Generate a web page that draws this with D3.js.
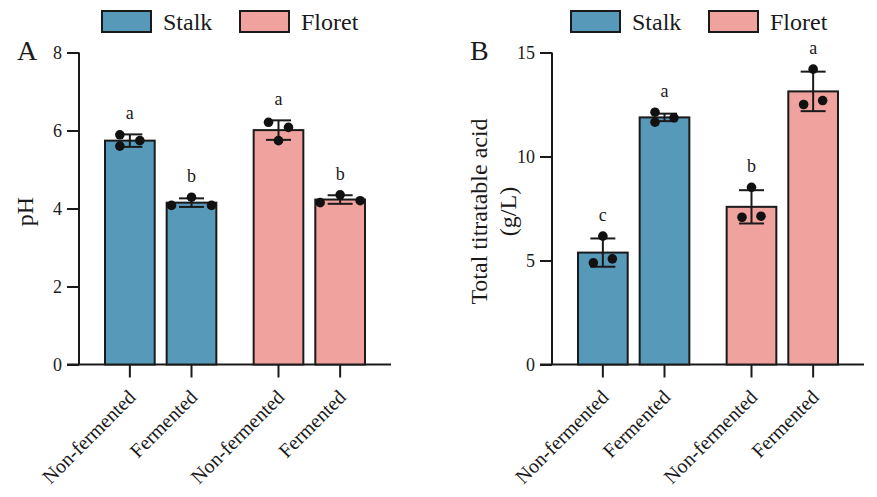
<!DOCTYPE html>
<html>
<head>
<meta charset="utf-8">
<script src="https://cdn.jsdelivr.net/npm/d3@7"></script>
<style>
  body { margin: 0; background: #fff; }
  svg { font-family: "Liberation Serif", "Times New Roman", serif; }
  .axis path, .axis line { stroke: #1a1a1a; stroke-width: 2px; }
  .axis text { font-size: 18px; fill: #1a1a1a; }
</style>
</head>
<body>
<svg id="chart"></svg>
<script>
// ---- data ----
const groups = ["Stalk", "Floret"];
const treatments = ["Non-fermented", "Fermented"];

// panel A: pH
const phMean = [5.74, 4.15, 6.01, 4.23];
const phSd = [0.16, 0.11, 0.25, 0.11];
const phPoints = [[5.89, 5.74, 5.60], [4.08, 4.29, 4.08], [6.21, 6.08, 5.74], [4.15, 4.35, 4.20]];
const phLetters = ["a", "b", "a", "b"];
const phTicks = [0, 2, 4, 6, 8];

// panel B: total titratable acid (g/L)
const taMean = [5.38, 11.88, 7.58, 13.13];
const taSd = [0.68, 0.18, 0.80, 0.95];
const taPoints = [[6.17, 4.89, 5.08], [12.13, 11.65, 11.86], [8.52, 7.08, 7.13], [14.20, 12.50, 12.69]];
const taLetters = ["c", "a", "b", "a"];
const taTicks = [0, 5, 10, 15];

// horizontal slot of each dot inside its bar (scatter spread, layout only)
const phJitter = [[-1, 1, -1], [-2, 0, 2], [-1, 1, 0], [-2, 0, 2]];
const taJitter = [[0, -1, 1], [-1, -1, 1], [0, -1, 1], [0, -1, 1]];

const colors = { Stalk: "#5799b9", Floret: "#f0a29f" };
const ink = "#1a1a1a";

const svg = d3.select("#chart").attr("width", 877).attr("height", 497);

function drawPanel(cfg) {
  const g = svg.append("g").attr("transform", `translate(${cfg.dx},0)`);
  const x0 = 79, x1 = 391, yTop = 52.5, yBot = 364.5;

  // bars: index -> group / treatment
  const rows = cfg.mean.map((m, i) => ({
    group: groups[Math.floor(i / 2)],
    treat: treatments[i % 2],
    mean: m,
    sd: cfg.sd[i],
    pts: cfg.points[i],
    jit: cfg.jitter[i],
    letter: cfg.letters[i]
  }));

  const y = d3.scaleLinear().domain([0, cfg.max]).range([yBot, yTop]);
  const xGroup = d3.scaleBand().domain(groups).range([x0, x1])
    .paddingInner(0.251).paddingOuter(0.175);
  const xInner = d3.scaleBand().domain(treatments).range([0, xGroup.bandwidth()])
    .paddingInner(0.194);
  const cx = d => xGroup(d.group) + xInner(d.treat) + xInner.bandwidth() / 2;

  // y axis (drop d3's sans-serif default so the serif face is used)
  g.append("g").attr("class", "axis")
    .attr("transform", `translate(${x0},0)`)
    .call(d3.axisLeft(y).tickValues(cfg.ticks).tickSize(12).tickPadding(5).tickSizeOuter(0))
    .attr("font-family", null)
    .attr("font-size", null)
    .call(a => a.select(".domain").attr("d", `M0,${yBot}V${yTop}`));

  // x axis with a tick under each bar
  const xa = g.append("g").attr("class", "axis");
  xa.append("line").attr("x1", x0 - 12).attr("x2", x1).attr("y1", yBot).attr("y2", yBot);
  xa.selectAll(".tk").data(rows).join("line").attr("class", "tk")
    .attr("x1", cx).attr("x2", cx).attr("y1", yBot).attr("y2", yBot + 13);
  xa.selectAll(".tl").data(rows).join("text").attr("class", "tl")
    .attr("text-anchor", "end")
    .style("font-size", "20px")
    .attr("transform", d => `translate(${cx(d) + 7},${yBot + 34}) rotate(-45)`)
    .text(d => d.treat);

  // bars
  g.selectAll(".bar").data(rows).join("rect").attr("class", "bar")
    .attr("x", d => xGroup(d.group) + xInner(d.treat))
    .attr("width", xInner.bandwidth())
    .attr("y", d => y(d.mean))
    .attr("height", d => y(0) - y(d.mean))
    .attr("fill", d => colors[d.group])
    .attr("stroke", ink).attr("stroke-width", 2);

  // error bars
  const eb = g.selectAll(".err").data(rows).join("g").attr("class", "err")
    .attr("stroke", ink).attr("stroke-width", 2);
  eb.append("line").attr("x1", cx).attr("x2", cx)
    .attr("y1", d => y(d.mean + d.sd)).attr("y2", d => y(d.mean - d.sd));
  eb.append("line").attr("x1", d => cx(d) - 12.5).attr("x2", d => cx(d) + 12.5)
    .attr("y1", d => y(d.mean + d.sd)).attr("y2", d => y(d.mean + d.sd));
  eb.append("line").attr("x1", d => cx(d) - 12.5).attr("x2", d => cx(d) + 12.5)
    .attr("y1", d => y(d.mean - d.sd)).attr("y2", d => y(d.mean - d.sd));

  // individual points
  rows.forEach(d => {
    g.selectAll(null).data(d.pts).join("circle")
      .attr("cx", (v, j) => cx(d) + d.jit[j] * cfg.slot)
      .attr("cy", v => y(v))
      .attr("r", 4.8)
      .attr("fill", "#111");
  });

  // significance letters
  g.selectAll(".sig").data(rows).join("text").attr("class", "sig")
    .attr("x", cx)
    .attr("y", d => Math.min(y(d3.max(d.pts)), y(d.mean + d.sd)) - 15)
    .attr("text-anchor", "middle")
    .style("font-size", "18px").attr("fill", ink)
    .text(d => d.letter);

  // panel letter
  g.append("text").attr("x", cfg.letterX).attr("y", 60)
    .style("font-size", "28px").attr("fill", ink).text(cfg.panel);

  // y title
  cfg.title.forEach((t, k) => {
    g.append("text")
      .attr("transform", `translate(${cfg.titleX[k]},${(yTop + yBot) / 2 + 3}) rotate(-90)`)
      .attr("text-anchor", "middle")
      .style("font-size", "24px").attr("fill", ink)
      .text(t);
  });

  // legend
  const lg = g.append("g").attr("transform", `translate(${cfg.legendX},11)`);
  groups.forEach((name, k) => {
    const off = k * 138;
    lg.append("rect").attr("x", off).attr("y", 0).attr("width", 49).attr("height", 21)
      .attr("fill", colors[name]).attr("stroke", ink).attr("stroke-width", 2);
    lg.append("text").attr("x", off + 61).attr("y", 19)
      .style("font-size", "24px").attr("fill", ink).text(name);
  });
}

drawPanel({
  dx: 0, panel: "A", letterX: 17, max: 8, ticks: phTicks,
  mean: phMean, sd: phSd, points: phPoints, letters: phLetters, jitter: phJitter, slot: 10,
  title: ["pH"], titleX: [33], legendX: 102
});

drawPanel({
  dx: 473, panel: "B", letterX: -3, max: 15, ticks: taTicks,
  mean: taMean, sd: taSd, points: taPoints, letters: taLetters, jitter: taJitter, slot: 9.5,
  title: ["Total titratable acid", "(g/L)"], titleX: [14, 43], legendX: 98
});
</script>
</body>
</html>
